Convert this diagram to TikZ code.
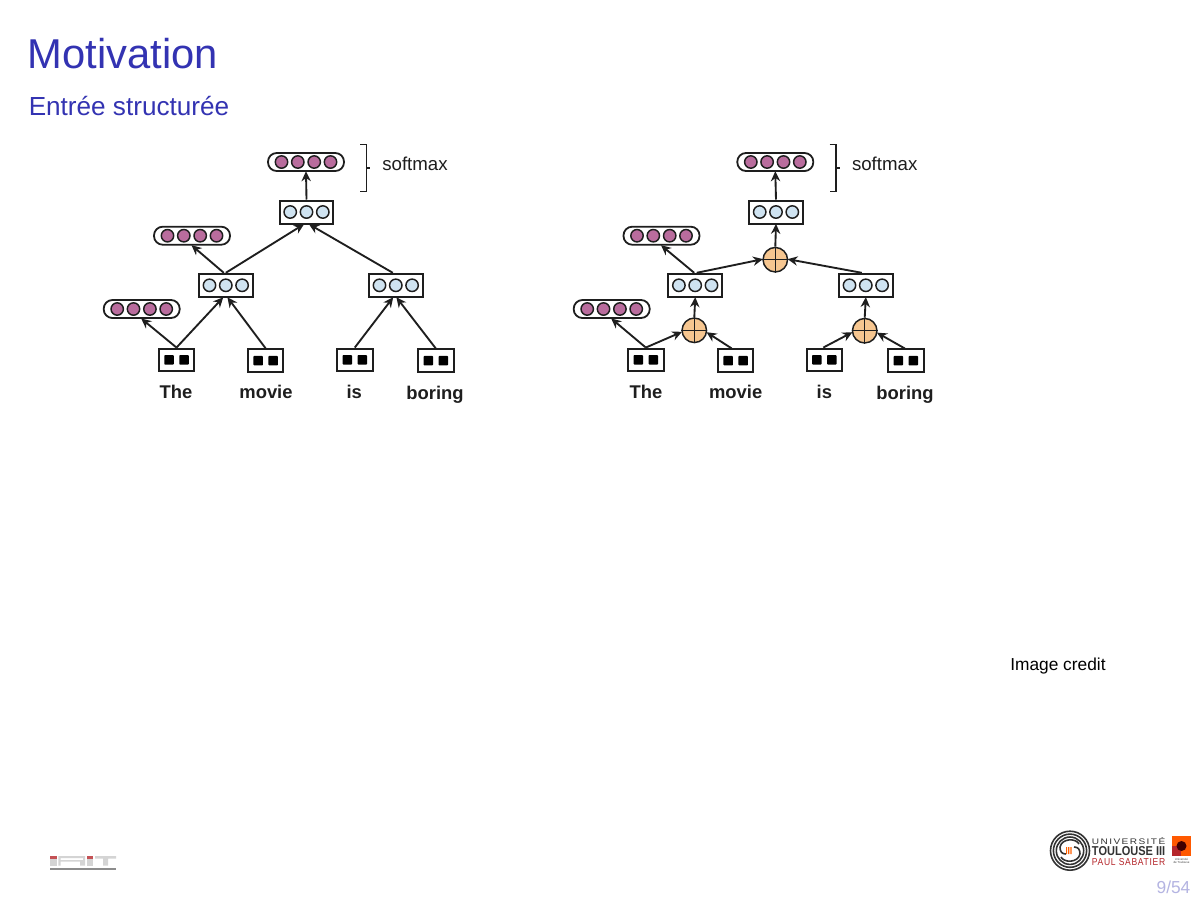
\documentclass[tikz,border=0pt]{standalone}
\usepackage{fontspec}
\usepackage{graphicx}
\setmainfont{Liberation Sans}
\usetikzlibrary{arrows.meta,calc}
\definecolor{beamerblue}{rgb}{0.2,0.2,0.7}
\definecolor{pagenum}{HTML}{B4B4E2}
\definecolor{inkc}{HTML}{1E1E1E}
\definecolor{pinkfill}{HTML}{B96C9D}
\definecolor{bluefill}{HTML}{CFE3F1}
\definecolor{orangefill}{HTML}{F6C690}
\definecolor{upsred}{HTML}{B5262B}
\definecolor{ringc}{HTML}{333333}
\newdimen\pxu \pxu=0.75pt
\tikzset{
  x=0.75pt,y=-0.75pt,
  pinkbox/.style={draw=inkc,line width=1.35pt,fill=white,rounded corners=6.5pt,minimum width=76\pxu,minimum height=18\pxu,inner sep=0pt},
  bluebox/.style={draw=inkc,line width=1.5pt,fill=white,minimum width=53.5\pxu,minimum height=23\pxu,inner sep=0pt},
  wordbox/.style={draw=inkc,line width=1.5pt,fill=white,minimum width=35.5\pxu,minimum height=22.5\pxu,inner sep=0pt},
  pinkdot/.style={circle,draw=inkc,line width=1.1pt,fill=pinkfill,minimum size=12.4\pxu,inner sep=0pt},
  bluedot/.style={circle,draw=inkc,line width=1.1pt,fill=bluefill,minimum size=12.4\pxu,inner sep=0pt},
  worddot/.style={fill=black,rounded corners=0.6pt,minimum size=9.5\pxu,inner sep=0pt},
  plusnode/.style={circle,draw=inkc,line width=1.1pt,fill=orangefill,minimum size=24.5\pxu,inner sep=0pt},
  wordlabel/.style={font=\fontsize{13.8pt}{15pt}\selectfont\bfseries,text=inkc,inner sep=0pt,anchor=base},
  softlabel/.style={font=\fontsize{14pt}{16pt}\selectfont,text=inkc,inner sep=0pt,anchor=base},
  conn/.style={draw=inkc,line width=1.4pt,-{Stealth[length=7.5pt,width=7pt]},shorten >=-0.5pt},
  brack/.style={draw=inkc,line width=1.1pt},
  iritc/.style={fill=black!17},
}
% name, x, y
\newcommand{\pinkvec}[3]{%
  \node[pinkbox] (#1) at (#2,#3) {};
  \foreach \k/\off in {a/-24.5,b/-8.2,c/8.2,d/24.5}{\node[pinkdot] (#1\k) at ($(#2,#3)+(\off,0)$) {};}
}
\newcommand{\bluevec}[3]{%
  \node[bluebox] (#1) at (#2,#3) {};
  \foreach \k/\off in {a/-16.3,b/0,c/16.3}{\node[bluedot] (#1\k) at ($(#2,#3)+(\off,0)$) {};}
}
\newcommand{\wordvec}[3]{%
  \node[wordbox] (#1) at (#2,#3) {};
  \foreach \k/\off in {a/-7.5,b/7.5}{\node[worddot] (#1\k) at ($(#2,#3)+(\off,0)$) {};}
}
\newcommand{\plusvec}[3]{%
  \node[plusnode] (#1) at (#2,#3) {};
  \draw[draw=inkc,line width=0.8pt] (#1.north) -- (#1.south) (#1.west) -- (#1.east);
}
\newcommand{\softbrace}[1]{%
  \draw[brack] (#1,144.3) -- (#1+6.5,144.3) -- (#1+6.5,191.3) -- (#1,191.3) (#1+6.5,168) -- (#1+10,168);
}
\begin{document}
\begin{tikzpicture}
\useasboundingbox (0,0) rectangle (1200,901);
\fill[white] (0,0) rectangle (1200,901);

\node[anchor=base west,inner sep=0pt,text=beamerblue,font=\fontsize{31.3pt}{36pt}\selectfont] (title) at (27.5,68) {Motivation};
\node[anchor=base west,inner sep=0pt,text=beamerblue,font=\fontsize{19.6pt}{24pt}\selectfont] (subtitle) at (28.5,115) {Entrée structurée};

% ---------- left tree
\pinkvec{Lp1}{306}{162}
\pinkvec{Lp2}{192}{235.7}
\pinkvec{Lp3}{141.7}{309}
\bluevec{Lb1}{306.5}{212}
\bluevec{Lb2}{225.8}{285.3}
\bluevec{Lb3}{395.8}{285.3}
\wordvec{Lw1}{176.5}{359.8}
\wordvec{Lw2}{265.7}{360.7}
\wordvec{Lw3}{354.8}{359.8}
\wordvec{Lw4}{435.8}{360.7}
\node[wordlabel] (Lt1) at (176,398.5) {The};
\node[wordlabel] (Lt2) at (266,398) {movie};
\node[wordlabel] (Lt3) at (354.3,398.5) {is};
\node[wordlabel] (Lt4) at (435,399) {boring};
\node[softlabel] (Ls) at (415,170.5) {softmax};
\softbrace{360}
\draw[conn] (Lb1.north) -- (Lp1.south);
\draw[conn] (Lw1.north) -- (Lp3.south);
\draw[conn] (Lw1.north) -- ([xshift=-3\pxu]Lb2.south);
\draw[conn] (Lw2.north) -- ([xshift=2\pxu]Lb2.south);
\draw[conn] (Lw3.north) -- ([xshift=-3\pxu]Lb3.south);
\draw[conn] (Lw4.north) -- ([xshift=1\pxu]Lb3.south);
\draw[conn] ([xshift=-2\pxu]Lb2.north) -- (Lp2.south);
\draw[conn] (Lb2.north) -- ([xshift=-3\pxu]Lb1.south);
\draw[conn] ([xshift=-3\pxu]Lb3.north) -- ([xshift=3\pxu]Lb1.south);

% ---------- right tree
\pinkvec{Rp1}{775.3}{162}
\pinkvec{Rp2}{661.5}{235.7}
\pinkvec{Rp3}{611.7}{309}
\bluevec{Rb1}{776}{212}
\bluevec{Rb2}{695.2}{285.3}
\bluevec{Rb3}{865.8}{285.3}
\plusvec{Rc1}{775.3}{259.7}
\plusvec{Rc2}{694.3}{330.3}
\plusvec{Rc3}{864.7}{330.7}
\wordvec{Rw1}{645.8}{359.8}
\wordvec{Rw2}{735.7}{360.7}
\wordvec{Rw3}{824.3}{359.8}
\wordvec{Rw4}{905.8}{360.7}
\node[wordlabel] (Rt1) at (646,398.5) {The};
\node[wordlabel] (Rt2) at (735.7,398) {movie};
\node[wordlabel] (Rt3) at (824.3,398.5) {is};
\node[wordlabel] (Rt4) at (905,399) {boring};
\node[softlabel] (Rs) at (884.7,170.5) {softmax};
\softbrace{829.5}
\draw[conn] (Rb1.north) -- (Rp1.south);
\draw[conn] (Rc1.north) -- (Rb1.south);
\draw[conn] (Rw1.north) -- (Rp3.south);
\draw[conn] (Rw1.north) -- (Rc2.188);
\draw[conn] ([xshift=-4\pxu]Rw2.north) -- (Rc2.-10);
\draw[conn] (Rc2.north) -- (Rb2.south);
\draw[conn] ([xshift=-1\pxu]Rw3.north) -- (Rc3.188);
\draw[conn] ([xshift=-1\pxu]Rw4.north) -- (Rc3.-10);
\draw[conn] (Rc3.north) -- (Rb3.south);
\draw[conn] ([xshift=-1\pxu]Rb2.north) -- (Rp2.south);
\draw[conn] ([xshift=1.5\pxu]Rb2.north) -- (Rc1.178);
\draw[conn] ([xshift=-4\pxu]Rb3.north) -- (Rc1.2);

% ---------- footer
\node[anchor=base west,inner sep=0pt,font=\fontsize{13pt}{15pt}\selectfont] (credit) at (1010,670) {Image credit};
\node[anchor=base,inner sep=0pt,text=pagenum,font=\fontsize{13pt}{15pt}\selectfont] (page) at (1173.5,893) {9/54};

% IRIT logo
\fill[upsred!80] (50,856) rectangle (56.7,859);
\fill[iritc] (50,859) rectangle (56.7,865.5);
\fill[iritc] (58.3,856) rectangle (85,858) (58.3,856) rectangle (60.5,865.5) (83,856) rectangle (85,861.5) (60.5,860) rectangle (85,861.5) (80,861.5) rectangle (85,865.5);
\fill[upsred!80] (86.7,856) rectangle (93.3,859);
\fill[iritc] (86.7,859) rectangle (93.3,865.5);
\fill[iritc] (95,856) rectangle (116,858.5) (103,858.5) rectangle (108,865.5);
\fill[black!45] (50,868.3) rectangle (116,870.3);

% UPS logo
\begin{scope}[draw=ringc]
  \foreach \r in {19.5,16.6,13.7}{\draw[line width=1.2pt] (1070,850.7) circle[radius=\r];}
  \draw[line width=1.2pt] (1060,847) .. controls (1062,838) and (1076,838) .. (1079,844) (1060,847) .. controls (1060,852) and (1062,854) .. (1066,854);
  \draw[line width=1.2pt] (1080,854) .. controls (1078,863) and (1064,863) .. (1061,857) (1080,854) .. controls (1080,849) and (1078,847) .. (1074,847);
  \fill[orange!75!red] (1066,847) rectangle (1067.2,854) (1068.2,847) rectangle (1069.4,854) (1070.4,847) rectangle (1071.6,854);
\end{scope}
\node[anchor=base west,inner sep=0pt,text=ringc] (ups1) at (1091.7,844) {\resizebox{73.3\pxu}{7\pxu}{\addfontfeature{LetterSpace=14}UNIVERSITÉ}};
\node[anchor=base west,inner sep=0pt,text=ringc] (ups2) at (1091.7,855.2) {\resizebox{73.3\pxu}{9\pxu}{\bfseries TOULOUSE III}};
\node[anchor=base west,inner sep=0pt,text=upsred] (ups3) at (1091.7,865.5) {\resizebox{73.3\pxu}{7\pxu}{\addfontfeature{LetterSpace=8}PAUL SABATIER}};
\fill[orange!70!red] (1172.3,836) rectangle (1190.7,856);
\fill[upsred] (1172.3,846) rectangle (1181,856);
\fill[black!75!red] (1181.5,846) circle[radius=5];
\node[inner sep=0pt,text=black!75,font=\fontsize{2.2pt}{2.6pt}\selectfont,align=center] (ups4) at (1181.5,861) {Université\\de Toulouse};
\end{tikzpicture}
\end{document}
